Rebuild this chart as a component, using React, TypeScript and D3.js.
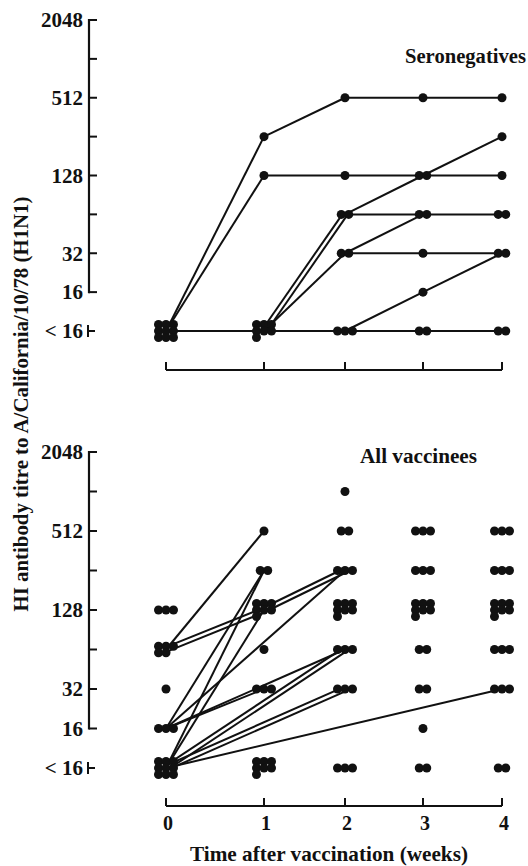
// HI antibody titres after vaccination, two panels
import { useEffect, useRef } from 'react'
import * as d3 from 'd3'

// titre levels on the log2 axis; 8 stands for "< 16"
const levels = [8, 16, 32, 64, 128, 256, 512, 1024, 2048]
const levelLabels = ['< 16', '16', '32', '', '128', '', '512', '', '2048']
const weeks = [0, 1, 2, 3, 4]
const weekLabels = ['0', '1', '2', '3', '4']

// subjects at each titre (<16, 16, 32, 64, 128, 256, 512, 1024), one row per week
const seroCounts = [
  [9, 0, 0, 0, 0, 0, 0, 0],
  [7, 0, 0, 0, 1, 1, 0, 0],
  [3, 0, 2, 2, 1, 0, 1, 0],
  [2, 1, 1, 2, 2, 0, 1, 0],
  [2, 0, 2, 2, 1, 1, 1, 0],
]
const allCounts = [
  [9, 3, 1, 5, 3, 0, 0, 0],
  [7, 0, 3, 1, 7, 2, 1, 0],
  [3, 0, 3, 3, 7, 3, 2, 1],
  [2, 1, 2, 2, 7, 3, 3, 0],
  [2, 0, 3, 3, 7, 3, 3, 0],
]

// [fromWeek, fromTitre, toWeek, toTitre, subjects]
const seroLinks = [
  [0, 8, 1, 256, 1], [1, 256, 2, 512, 1], [2, 512, 3, 512, 1], [3, 512, 4, 512, 1],
  [0, 8, 1, 128, 1], [1, 128, 2, 128, 1], [2, 128, 3, 128, 1], [3, 128, 4, 128, 1],
  [0, 8, 1, 8, 1], [1, 8, 2, 8, 1], [2, 8, 3, 8, 1], [3, 8, 4, 8, 1],
  [1, 8, 2, 64, 2], [2, 64, 3, 64, 1], [3, 64, 4, 64, 1], [2, 64, 3, 128, 1], [3, 128, 4, 256, 1],
  [1, 8, 2, 32, 1], [2, 32, 3, 32, 1], [3, 32, 4, 32, 1], [2, 32, 3, 64, 1],
  [2, 8, 3, 16, 1], [3, 16, 4, 32, 1],
]
const allLinks = [
  [0, 64, 1, 512, 1],
  [0, 64, 1, 128, 2],
  [1, 128, 2, 256, 2],
  [0, 8, 1, 256, 1],
  [0, 16, 1, 256, 1],
  [0, 8, 1, 128, 1],
  [0, 16, 1, 32, 1],
  [0, 16, 2, 256, 1],
  [0, 16, 2, 64, 1],
  [0, 8, 2, 64, 2],
  [0, 8, 2, 32, 2],
  [0, 8, 4, 32, 1],
]

const INK = '#111'
const FONT = '"Liberation Serif", "Times New Roman", serif'

// dots sharing a value sit side by side, three to a row
function clusterOffsets(n: number) {
  const dx = 7.5, dy = 6.5
  const rows = Math.ceil(n / 3)
  const out: [number, number][] = []
  for (let i = 0; i < n; i++) {
    const r = Math.floor(i / 3), c = i % 3
    const inRow = Math.min(3, n - r * 3)
    const ox = rows === 1 ? (c - (inRow - 1) / 2) * dx : (c - 1) * dx
    const oy = (r - (rows - 1) / 2) * dy
    out.push([ox, oy])
  }
  return out
}

export default function App() {
  const svgRef = useRef<SVGSVGElement>(null)

  useEffect(() => {
    if (!svgRef.current) return
    const svg = d3.select(svgRef.current)
    svg.selectAll('*').remove()

    const width = 528, height = 866
    const axisX = 89

    // week 0 sits further from week 1 than the others do in the original
    const x = d3.scaleLinear().domain(weeks).range([166, 264, 345, 423, 502])

    const drawPanel = (opts: {
      yRange: [number, number]
      baseY: number
      counts: number[][]
      links: number[][]
      title: string
      titleX: number
      titleY: number
      titleLen: number
      weekText: boolean
    }) => {
      const y = d3.scaleLog().base(2).domain([8, 2048]).range(opts.yRange)
      const g = svg.append('g')

      // y axis: spine from 16 to 2048, separate mark for < 16
      g.append('line')
        .attr('x1', axisX).attr('x2', axisX)
        .attr('y1', y(2048) - 1).attr('y2', y(16) + 1)
        .attr('stroke', INK).attr('stroke-width', 2.2)
      g.selectAll('.ytick')
        .data(levels.slice(1))
        .enter().append('line')
        .attr('x1', axisX).attr('x2', axisX + 8)
        .attr('y1', d => y(d)).attr('y2', d => y(d))
        .attr('stroke', INK).attr('stroke-width', 2)
      g.append('line')
        .attr('x1', axisX - 1).attr('x2', axisX - 1)
        .attr('y1', y(8) - 6).attr('y2', y(8) + 6)
        .attr('stroke', INK).attr('stroke-width', 2)
      g.append('line')
        .attr('x1', axisX - 1).attr('x2', axisX + 6)
        .attr('y1', y(8)).attr('y2', y(8))
        .attr('stroke', INK).attr('stroke-width', 2)
      g.selectAll('.ylab')
        .data(levels.map((v, i) => ({ v, label: levelLabels[i] })).filter(d => d.label))
        .enter().append('text')
        .attr('x', axisX - 6)
        .attr('y', d => y(d.v))
        .attr('dy', '0.35em')
        .attr('text-anchor', 'end')
        .attr('font-family', FONT)
        .attr('font-weight', 'bold')
        .attr('font-size', 21)
        .attr('fill', INK)
        .text(d => d.label)

      // x axis with upward ticks
      g.append('line')
        .attr('x1', x(0)).attr('x2', x(4))
        .attr('y1', opts.baseY).attr('y2', opts.baseY)
        .attr('stroke', INK).attr('stroke-width', 2.2)
      g.selectAll('.xtick')
        .data(weeks)
        .enter().append('line')
        .attr('x1', d => x(d)).attr('x2', d => x(d))
        .attr('y1', opts.baseY).attr('y2', opts.baseY - 8)
        .attr('stroke', INK).attr('stroke-width', 2)
      if (opts.weekText) {
        g.selectAll('.xlab')
          .data(weeks)
          .enter().append('text')
          .attr('x', d => x(d) + 2)
          .attr('y', opts.baseY + 24)
          .attr('text-anchor', 'middle')
          .attr('font-family', FONT)
          .attr('font-weight', 'bold')
          .attr('font-size', 20)
          .attr('fill', INK)
          .text((d, i) => weekLabels[i])
      }

      // connecting lines; two subjects on one path give a double line
      opts.links.forEach(([w0, t0, w1, t1, n]) => {
        const x1 = x(w0), y1 = y(t0), x2 = x(w1), y2 = y(t1)
        const len = Math.hypot(x2 - x1, y2 - y1)
        const px = -(y2 - y1) / len, py = (x2 - x1) / len
        for (let k = 0; k < n; k++) {
          const off = (k - (n - 1) / 2) * 4.5
          g.append('line')
            .attr('x1', x1 + px * off).attr('y1', y1 + py * off)
            .attr('x2', x2 + px * off).attr('y2', y2 + py * off)
            .attr('stroke', INK).attr('stroke-width', 2)
        }
      })

      // dots
      const dots: { cx: number; cy: number }[] = []
      opts.counts.forEach((row, w) => {
        row.forEach((n, li) => {
          clusterOffsets(n).forEach(([ox, oy]) => {
            dots.push({ cx: x(weeks[w]) + ox, cy: y(levels[li]) + oy })
          })
        })
      })
      g.selectAll('.dot')
        .data(dots)
        .enter().append('circle')
        .attr('cx', d => d.cx).attr('cy', d => d.cy)
        .attr('r', 4.5)
        .attr('fill', INK)

      g.append('text')
        .attr('x', opts.titleX)
        .attr('y', opts.titleY)
        .attr('font-family', FONT)
        .attr('font-weight', 'bold')
        .attr('font-size', 20)
        .attr('textLength', opts.titleLen)
        .attr('lengthAdjust', 'spacingAndGlyphs')
        .attr('fill', INK)
        .text(opts.title)
    }

    svg.append('rect').attr('width', width).attr('height', height).attr('fill', '#fff')

    drawPanel({
      yRange: [331, 20], baseY: 370, counts: seroCounts, links: seroLinks,
      title: 'Seronegatives', titleX: 405, titleY: 63, titleLen: 121, weekText: false,
    })
    drawPanel({
      yRange: [768, 452], baseY: 806, counts: allCounts, links: allLinks,
      title: 'All vaccinees', titleX: 360, titleY: 463, titleLen: 117, weekText: true,
    })

    // axis titles
    svg.append('text')
      .attr('transform', 'translate(28,404) rotate(-90)')
      .attr('text-anchor', 'middle')
      .attr('font-family', FONT)
      .attr('font-weight', 'bold')
      .attr('font-size', 20)
      .attr('textLength', 415)
      .attr('lengthAdjust', 'spacingAndGlyphs')
      .attr('fill', INK)
      .text('HI antibody titre to A/California/10/78 (H1N1)')

    svg.append('text')
      .attr('x', 329)
      .attr('y', 861)
      .attr('text-anchor', 'middle')
      .attr('font-family', FONT)
      .attr('font-weight', 'bold')
      .attr('font-size', 21)
      .attr('textLength', 278)
      .attr('lengthAdjust', 'spacingAndGlyphs')
      .attr('fill', INK)
      .text('Time after vaccination (weeks)')
  }, [])

  return (
    <svg
      ref={svgRef}
      width={528}
      height={866}
      style={{ position: 'absolute', left: 0, top: 0, display: 'block' }}
    />
  )
}
